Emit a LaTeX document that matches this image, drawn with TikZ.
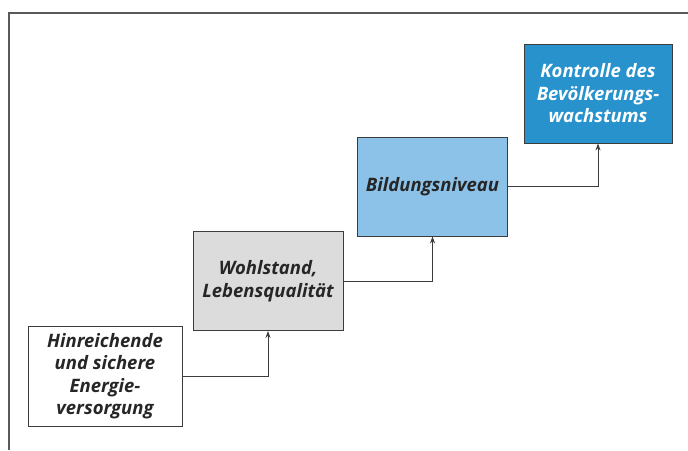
\documentclass[tikz,border=0pt]{standalone}
\usepackage{fontspec}
\setmainfont{Open Sans}
\definecolor{grauStufe}{RGB}{220,220,220}
\definecolor{hellblauStufe}{RGB}{140,194,232}
\definecolor{blauStufe}{RGB}{40,146,204}
\definecolor{linie}{RGB}{60,60,60}
\usetikzlibrary{arrows.meta,positioning}
\tikzset{
  stufe/.style={rectangle, draw=linie, line width=0.9pt, fill=white,
                minimum width=150pt, minimum height=99pt, align=center,
                font=\fontsize{18.5}{22.5}\selectfont\bfseries\itshape, text=black!85},
  pfeil/.style={-{Stealth[length=7pt,width=5pt]}, line width=0.9pt, linie},
}
\begin{document}
\begin{tikzpicture}[x=1pt,y=-1pt]
  \useasboundingbox (0,0) rectangle (688,450);
  \draw[line width=1.2pt, black!65] (688,13) -- (9,13) -- (9,450);
  \node[stufe, minimum width=154pt, minimum height=100pt] (energie) at (105,376)
    {Hinreichende\\und sichere\\Energie-\\versorgung};
  \node[stufe, fill=grauStufe] (wohlstand) at (268,281) {Wohlstand,\\Lebensqualität};
  \node[stufe, fill=hellblauStufe] (bildung) at (432.5,186.5) {Bildungsniveau};
  \node[stufe, fill=blauStufe, text=white, minimum width=148pt] (kontrolle) at (598,93.5)
    {Kontrolle des\\Bevölkerungs-\\wachstums};
  \draw[pfeil] (energie.east) -| (wohlstand.south);
  \draw[pfeil] (wohlstand.east) -| (bildung.south);
  \draw[pfeil] (bildung.east) -| (kontrolle.south);
\end{tikzpicture}
\end{document}
